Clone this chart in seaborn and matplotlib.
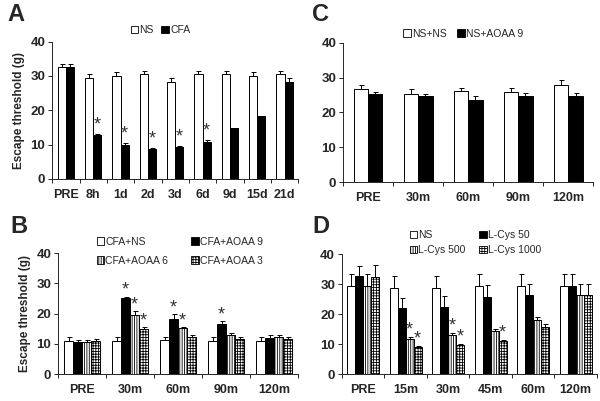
import numpy as np
import pandas as pd
import matplotlib
matplotlib.use("Agg")
import matplotlib.pyplot as plt
from matplotlib.patches import Patch
import seaborn as sns

# Panel A data
a_times = ["PRE", "8h", "1d", "2d", "3d", "6d", "9d", "15d", "21d"]
a_groups = ["NS", "CFA"]
a_ns = [32.5, 29.5, 30.0, 30.5, 28.3, 30.5, 30.5, 30.0, 30.5]
a_ns_err = [1.0, 1.0, 1.2, 1.0, 1.0, 1.0, 1.0, 1.2, 1.0]
a_cfa = [32.5, 12.7, 10.0, 8.6, 9.2, 10.8, 14.7, 18.2, 28.3]
a_cfa_err = [1.0, 0.4, 0.4, 0.3, 0.3, 0.5, 0.2, 0.2, 1.0]
a_stars = {"CFA": [1, 2, 3, 4, 5]}

# Panel B data
b_times = ["PRE", "30m", "60m", "90m", "120m"]
b_groups = ["CFA+NS", "CFA+AOAA 9", "CFA+AOAA 6", "CFA+AOAA 3"]
b_ns = [11.0, 11.0, 11.3, 11.0, 11.0]
b_ns_err = [1.2, 1.3, 1.0, 1.3, 1.2]
b_a9 = [10.5, 25.0, 18.3, 16.7, 12.0]
b_a9_err = [0.8, 0.6, 1.4, 0.8, 0.9]
b_a6 = [10.7, 19.5, 15.2, 13.0, 12.3]
b_a6_err = [0.7, 1.2, 0.3, 0.7, 0.6]
b_a3 = [11.0, 15.0, 12.3, 11.7, 11.5]
b_a3_err = [0.7, 0.6, 0.5, 0.6, 0.6]
b_stars = {"CFA+AOAA 9": [1, 2, 3], "CFA+AOAA 6": [1, 2], "CFA+AOAA 3": [1]}

# Panel C data
c_times = ["PRE", "30m", "60m", "90m", "120m"]
c_groups = ["NS+NS", "NS+AOAA 9"]
c_ns = [26.7, 25.4, 26.2, 26.0, 28.0]
c_ns_err = [1.1, 1.3, 0.8, 1.1, 1.2]
c_a9 = [25.2, 24.6, 23.5, 24.6, 24.6]
c_a9_err = [0.8, 0.8, 1.3, 0.9, 0.9]

# Panel D data
d_times = ["PRE", "15m", "30m", "45m", "60m", "120m"]
d_groups = ["NS", "L-Cys 50", "L-Cys 500", "L-Cys 1000"]
d_ns = [29.4, 28.9, 28.9, 29.4, 29.4, 29.4]
d_ns_err = [4.0, 4.0, 4.0, 4.0, 4.0, 4.0]
d_c50 = [32.6, 21.9, 22.5, 25.7, 26.4, 29.4]
d_c50_err = [3.5, 3.5, 3.5, 4.0, 3.8, 4.0]
d_c500 = [29.4, 11.7, 13.0, 14.4, 18.2, 26.4]
d_c500_err = [4.0, 0.7, 0.7, 0.7, 0.7, 3.8]
d_c1000 = [32.4, 9.0, 9.8, 10.9, 15.8, 26.4]
d_c1000_err = [4.0, 0.5, 0.4, 0.5, 1.0, 3.8]
d_stars = {"L-Cys 500": [1, 2], "L-Cys 1000": [1, 2, 3]}

sns.set_style("ticks")
plt.rcParams["font.family"] = ["Liberation Sans", "DejaVu Sans"]
plt.rcParams["hatch.linewidth"] = 0.6


def long_df(times, groups, values):
    rows = []
    for g, vals in zip(groups, values):
        for t, v in zip(times, vals):
            rows.append({"time": t, "group": g, "value": v})
    return pd.DataFrame(rows)


def panel(ax, times, groups, values, errors, styles, width, stars, star_off=1.0):
    df = long_df(times, groups, values)
    pal = {g: styles[g][0] for g in groups}
    sns.barplot(data=df, x="time", y="value", hue="group", hue_order=groups,
                order=times, palette=pal, width=width, edgecolor="black",
                linewidth=0.7, saturation=1, legend=False, ax=ax)
    for cont, g, vals, errs in zip(ax.containers, groups, values, errors):
        xs = []
        for bar in cont:
            bar.set_hatch(styles[g][1])
            xs.append(bar.get_x() + bar.get_width() / 2)
        ax.errorbar(xs, vals, yerr=[np.zeros(len(errs)), errs], fmt="none",
                    ecolor="black", elinewidth=0.7, capsize=1.8, capthick=0.7)
        for i in stars.get(g, []):
            ax.text(xs[i], vals[i] + errs[i] + star_off, "*", ha="center",
                    va="baseline", fontsize=13, color="#333333")
    ax.set_ylim(0, 40)
    ax.set_xlim(-0.5, len(times) - 0.5)
    ax.set_yticks([0, 10, 20, 30, 40])
    ax.set_xlabel("")
    ax.set_ylabel("")
    ax.set_xticks(np.arange(-0.5, len(times), 1.0), minor=True)
    ax.tick_params(axis="x", which="major", length=0, labelsize=9, pad=7)
    ax.tick_params(axis="x", which="minor", length=3, width=0.7)
    ax.tick_params(axis="y", length=3, width=0.7, labelsize=9.5, pad=2)
    for lab in ax.get_xticklabels() + ax.get_yticklabels():
        lab.set_fontweight("bold")
    sns.despine(ax=ax)
    for s in ["left", "bottom"]:
        ax.spines[s].set_linewidth(0.7)
    handles = [Patch(facecolor=styles[g][0], edgecolor="black", hatch=styles[g][1],
                     linewidth=0.6, label=g) for g in groups]
    return handles


styles = {
    "NS": ("white", ""), "CFA": ("black", ""),
    "CFA+NS": ("white", ""), "CFA+AOAA 9": ("black", ""),
    "CFA+AOAA 6": ("white", "|||||||"), "CFA+AOAA 3": ("white", "++++++"),
    "NS+NS": ("white", ""), "NS+AOAA 9": ("black", ""),
    "L-Cys 50": ("black", ""), "L-Cys 500": ("white", "|||||||"),
    "L-Cys 1000": ("white", "++++++"),
}

fig = plt.figure(figsize=(6.0, 4.01), dpi=100)
axA = fig.add_axes([0.087, 0.554, 0.41, 0.342])
axC = fig.add_axes([0.572, 0.546, 0.417, 0.347])
axB = fig.add_axes([0.097, 0.067, 0.40, 0.302])
axD = fig.add_axes([0.570, 0.067, 0.425, 0.299])

leg_kw = dict(frameon=False, fontsize=7.5, handlelength=0.7, handleheight=0.7,
              handletextpad=0.15, borderaxespad=0, borderpad=0)

h = panel(axA, a_times, a_groups, [a_ns, a_cfa], [a_ns_err, a_cfa_err], styles, 0.6,
          a_stars, 1.3)
axA.legend(handles=h, loc="lower center", bbox_to_anchor=(0.44, 1.05), ncol=2,
           columnspacing=0.7, **leg_kw)

h = panel(axB, b_times, b_groups, [b_ns, b_a9, b_a6, b_a3],
          [b_ns_err, b_a9_err, b_a6_err, b_a3_err], styles, 0.75, b_stars, 0.6)
hb = [h[0], h[2], h[1], h[3]]
axB.legend(handles=hb, loc="upper left", bbox_to_anchor=(0.16, 1.135), ncol=2,
           columnspacing=2.2, labelspacing=0.85, **leg_kw)

h = panel(axC, c_times, c_groups, [c_ns, c_a9], [c_ns_err, c_a9_err], styles, 0.57, {})
axC.legend(handles=h, loc="lower center", bbox_to_anchor=(0.48, 1.03), ncol=2,
           columnspacing=1.0, **leg_kw)

h = panel(axD, d_times, d_groups, [d_ns, d_c50, d_c500, d_c1000],
          [d_ns_err, d_c50_err, d_c500_err, d_c1000_err], styles, 0.75, d_stars, 0.8)
hd = [h[0], h[2], h[1], h[3]]
axD.legend(handles=hd, loc="upper left", bbox_to_anchor=(0.265, 1.2), ncol=2,
           columnspacing=1.3, labelspacing=0.45, **leg_kw)

for ax in [axA, axB]:
    ax.set_ylabel("Escape threshold (g)", fontsize=8.5, fontweight="bold", labelpad=4)

fig.text(0.013, 0.948, "A", fontsize=17, fontweight="bold")
fig.text(0.52, 0.948, "C", fontsize=17, fontweight="bold")
fig.text(0.018, 0.419, "B", fontsize=17, fontweight="bold")
fig.text(0.52, 0.419, "D", fontsize=17, fontweight="bold")

fig.savefig("out.png", dpi=100)
